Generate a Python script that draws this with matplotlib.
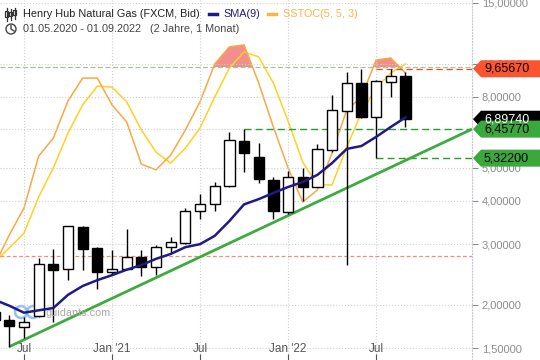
import matplotlib
matplotlib.use("Agg")
import matplotlib.pyplot as plt
import matplotlib.patches as mpatches
from matplotlib.lines import Line2D
from matplotlib.ticker import NullLocator, FixedLocator
import numpy as np

plt.rcParams['font.family'] = ['Liberation Sans', 'DejaVu Sans']

# monthly candles, May 2020 .. Sep 2022
months = ['05.2020', '06.2020', '07.2020', '08.2020', '09.2020', '10.2020', '11.2020', '12.2020',
          '01.2021', '02.2021', '03.2021', '04.2021', '05.2021', '06.2021', '07.2021', '08.2021',
          '09.2021', '10.2021', '11.2021', '12.2021', '01.2022', '02.2022', '03.2022', '04.2022',
          '05.2022', '06.2022', '07.2022', '08.2022', '09.2022']
opens = [1.91, 1.81, 1.73, 1.86, 2.63, 2.54, 3.36, 2.92, 2.50, 2.55, 2.76, 2.58, 2.94, 3.03, 3.73,
         3.91, 4.42, 5.97, 5.38, 4.60, 3.71, 4.70, 4.40, 5.62, 7.30, 8.77, 7.02, 8.86, 9.20]
highs = [2.00, 1.87, 1.85, 2.73, 2.90, 3.39, 3.39, 2.95, 2.89, 3.31, 2.89, 2.98, 3.15, 3.81, 4.19,
         4.55, 6.35, 6.4577, 5.88, 4.70, 4.89, 4.98, 5.84, 8.11, 9.47, 9.6567, 8.95, 9.6567, 9.47]
lows = [1.65, 1.515, 1.60, 1.85, 1.79, 2.37, 2.53, 2.23, 2.44, 2.55, 2.42, 2.44, 2.82, 3.00, 3.54,
        3.75, 4.40, 4.86, 4.52, 3.54, 3.66, 4.01, 4.38, 5.56, 2.61, 6.95, 5.322, 7.99, 6.57]
closes = [1.81, 1.74, 1.79, 2.62, 2.53, 3.39, 2.91, 2.50, 2.55, 2.76, 2.58, 2.94, 3.04, 3.74, 3.91,
          4.42, 6.01, 5.52, 4.62, 3.75, 4.70, 4.40, 5.65, 7.34, 8.77, 7.02, 8.91, 9.20, 6.8974]

sma9 = [2.07, 1.99, 1.90, 1.93, 1.96, 2.14, 2.27, 2.36, 2.44, 2.53, 2.61, 2.72, 2.81, 2.94, 3.00,
        3.17, 3.50, 3.91, 4.05, 4.22, 4.39, 4.54, 4.76, 5.15, 5.66, 5.77, 6.13, 6.55, 6.98]

stoch_k = [20.9, 29.9, 37.9, 53.4, 58.8, 69.9, 76.7, 76.7, 68.7, 63.6, 51.0, 49.3, 53.7, 61.2, 69.6,
           80.9, 86.0, 86.6, 75.2, 62.1, 49.9, 39.7, 43.3, 54.3, 67.2, 71.0, 82.1, 82.7, 78.2]
stoch_d = [21.8, 26.0, 30.4, 41.2, 49.9, 60.3, 68.7, 74.3, 74.0, 69.6, 61.2, 54.6, 51.3, 55.8, 61.8,
           71.0, 79.7, 84.5, 83.0, 75.2, 63.9, 51.6, 44.8, 44.8, 56.1, 66.3, 73.7, 78.2, 80.9]
overbought = 80

# trend line (month index, price) and levels
trend_x = [1, 32.54]
trend_y = [1.515, 6.4577]
level_high = 9.6567
level_res = 6.4577
level_sup = 5.322
level_old = 2.77
last_close = 6.8974

y_ticks = [1.5, 2, 3, 4, 5, 8, 10, 15]
y_labels = [f"{v:.5f}".replace('.', ',') for v in y_ticks]
x_ticks = [2, 8, 14, 20, 26]
x_labels = ['Jul', "Jan '21", 'Jul', "Jan '22", 'Jul']

W, H = 540, 360
fig = plt.figure(figsize=(W / 100, H / 100), dpi=100)
ax = fig.add_axes([0, 0, 472 / W, 1])
ax2 = ax.twinx()
ax2.set_axis_off()
ax.set_zorder(ax2.get_zorder() + 1)
ax.patch.set_visible(False)

x = np.arange(len(months))
ax.set_yscale('log')
ax.set_xlim(0.364, 32.54)
ax.set_ylim(1.386, 15.27)
ax2.set_xlim(0.364, 32.54)
ax2.set_ylim(-7.46, 100)

# stochastic overlay
ax2.plot(x, stoch_d, color='#ffd21f', lw=1.1)
ax2.plot(x, stoch_k, color='#f8a845', lw=1.1)
ax2.fill_between(x, stoch_k, overbought, where=np.array(stoch_k) > overbought,
                 interpolate=True, color='#f28e8e', lw=0)
ax2.axhline(overbought, color='#a9c58f', lw=0.9, ls=(0, (4, 2)))

# grid
for t in y_ticks:
    ax.axhline(t, color='#cfcfcf', lw=0.8, ls=':', zorder=0)
for t in x_ticks:
    ax.axvline(t, color='#cfcfd8', lw=0.8, ls=':', zorder=0)
ax.axhline(level_res, color='#cfcfcf', lw=0.8, ls=':', zorder=0)

# levels
ax.axhline(level_old, color='#f08a7a', lw=0.9, ls=(0, (3, 2)), zorder=1)
ax.plot([26, 32.54], [level_high, level_high], color='#e8452c', lw=0.9, ls=(0, (5, 3)), zorder=1)
ax.plot([17, 32.54], [level_res, level_res], color='#2c9a2c', lw=1.0, ls=(0, (5, 3)), zorder=1)
ax.plot([26, 32.54], [level_sup, level_sup], color='#2c9a2c', lw=1.0, ls=(0, (5, 3)), zorder=1)

# trend line and sma
ax.plot(trend_x, trend_y, color='#3faa3f', lw=2.0, zorder=2, solid_capstyle='butt')
ax.plot(x, sma9, color='#1f1a86', lw=1.8, zorder=4)

# candles
o = np.array(opens); c = np.array(closes)
ax.vlines(x, lows, highs, color='black', lw=1.0, zorder=3)
up = c >= o
ax.bar(x, np.abs(c - o), bottom=np.minimum(o, c), width=0.7,
       color=np.where(up, 'white', 'black'), edgecolor='black', lw=1.0, zorder=3)

# axes decoration
for s in ['top', 'left', 'bottom']:
    ax.spines[s].set_visible(False)
ax.spines['right'].set_color('#c8c8d8')
ax.spines['right'].set_linestyle(':')
ax.yaxis.tick_right()
ax.yaxis.set_major_locator(FixedLocator(y_ticks))
ax.yaxis.set_minor_locator(NullLocator())
ax.set_yticklabels(y_labels)
ax.tick_params(axis='y', colors='#8c8c8c', labelsize=8, length=4, pad=3)
ax.set_xticks(x_ticks)
ax.set_xticklabels(x_labels)
ax.tick_params(axis='x', direction='in', length=4, colors='#555555', labelsize=8.5, pad=-12)
ax.xaxis.set_minor_locator(NullLocator())


def fy(price):
    return fig.transFigure.inverted().transform(ax.transData.transform((1, price)))[1]


def tag(price, face, txt_color):
    yc = fy(price)
    h = 8.5 / H
    xs = [473 / W, 481 / W, 1, 1, 481 / W]
    ys = [yc, yc + h, yc + h, yc - h, yc - h]
    fig.add_artist(mpatches.Polygon(list(zip(xs, ys)), closed=True, facecolor=face,
                                    edgecolor='none', transform=fig.transFigure, zorder=5))
    fig.text(484 / W, yc, f"{price:.5f}".replace('.', ','), color=txt_color,
             fontsize=9, va='center', ha='left', zorder=6)


tag(level_high, '#fb5530', 'black')
tag(last_close, 'black', 'white')
tag(level_res, '#3aa83a', 'black')
tag(level_sup, '#3aa83a', 'black')

# header
def fx_(px):
    return px / W


def fy_(py):
    return 1 - py / H


for cx, top, bot, b0, b1 in [(6.5, 8, 21, 11, 17), (10.5, 9, 20, 12, 16), (14.5, 8, 19, 10, 15)]:
    fig.add_artist(Line2D([fx_(cx), fx_(cx)], [fy_(top), fy_(bot)], color='#333333', lw=0.9))
    fig.add_artist(mpatches.Rectangle((fx_(cx - 1.3), fy_(b1)), 2.6 / W, (b1 - b0) / H,
                                      facecolor='white', edgecolor='#333333', lw=0.9))
fig.add_artist(mpatches.Ellipse((fx_(11), fy_(29)), 10 / W, 10 / H, facecolor='none',
                                edgecolor='#444444', lw=1.0))
fig.add_artist(Line2D([fx_(11), fx_(11), fx_(14)], [fy_(25.5), fy_(29), fy_(31)],
                      color='#444444', lw=1.0))

fs = 7.8
fig.text(fx_(23), fy_(14), 'Henry Hub Natural Gas (FXCM, Bid)', color='#222222',
         fontsize=fs, va='center')
fig.add_artist(Line2D([fx_(209), fx_(217)], [fy_(14), fy_(14)], color='#1f1a86', lw=2.5))
fig.text(fx_(223), fy_(14), 'SMA(9)', color='#1f1a86', fontsize=fs, va='center')
fig.add_artist(Line2D([fx_(268), fx_(276)], [fy_(14), fy_(14)], color='#ffb347', lw=2.5))
fig.text(fx_(283), fy_(14), 'SSTOC(5, 5, 3)', color='#ffb347', fontsize=fs, va='center')
fig.text(fx_(23), fy_(29), '01.05.2020 - 01.09.2022', color='#444444', fontsize=fs, va='center')
fig.text(fx_(150), fy_(29), '(2 Jahre, 1 Monat)', color='#444444', fontsize=fs, va='center')

# watermark
for cx in (21, 33):
    fig.add_artist(mpatches.Ellipse((fx_(cx), fy_(312)), 12 / W, 12 / H, facecolor='none',
                                    edgecolor='#7fb0ee', lw=1.8, alpha=0.8))
fig.text(fx_(46), fy_(313), 'guidants.com', color='#a8a8a8', fontsize=7.8, va='center')

fig.savefig('out.png', dpi=100, facecolor='white')
